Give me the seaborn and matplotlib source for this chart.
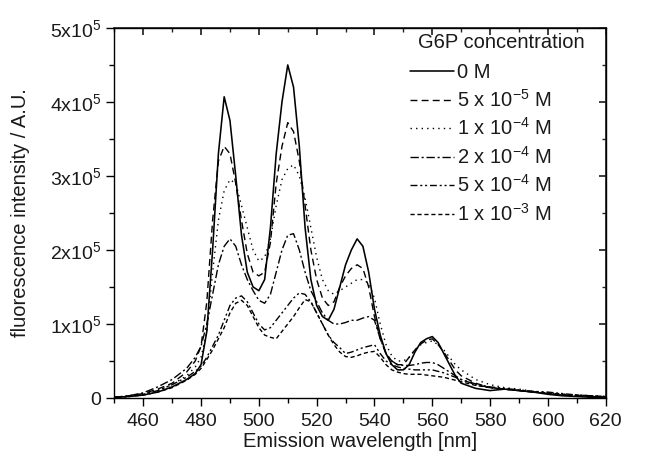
import numpy as np
import pandas as pd
import matplotlib
matplotlib.use("Agg")
import matplotlib.pyplot as plt
import seaborn as sns
from matplotlib.ticker import MultipleLocator, FuncFormatter

wavelength = [450, 455, 460, 465, 470, 475, 478, 480, 482, 484, 486, 488, 490, 492, 494,
              496, 498, 500, 502, 504, 506, 508, 510, 512, 514, 516, 518, 520, 522, 524,
              526, 528, 530, 532, 534, 536, 538, 540, 542, 544, 546, 548, 550, 552, 554,
              556, 558, 560, 562, 564, 566, 568, 570, 575, 580, 585, 590, 595, 600, 605,
              610, 615, 620]

# intensities in units of 1e5
c0 = [0.01, 0.02, 0.04, 0.08, 0.15, 0.25, 0.33, 0.45, 0.9, 2.0, 3.3, 4.07, 3.75, 3.0, 2.2,
      1.7, 1.5, 1.45, 1.6, 2.3, 3.3, 4.0, 4.5, 4.2, 3.4, 2.3, 1.6, 1.25, 1.1, 1.05,
      1.2, 1.5, 1.8, 2.0, 2.15, 2.05, 1.7, 1.2, 0.85, 0.6, 0.45, 0.38, 0.38, 0.45, 0.62,
      0.75, 0.8, 0.83, 0.75, 0.6, 0.45, 0.3, 0.2, 0.13, 0.1, 0.12, 0.1, 0.08, 0.05, 0.03,
      0.02, 0.01, 0.0]
c5e5 = [0.01, 0.03, 0.06, 0.12, 0.2, 0.35, 0.5, 0.7, 1.3, 2.4, 3.2, 3.4, 3.3, 2.9, 2.4,
        1.95, 1.7, 1.65, 1.7, 2.1, 2.9, 3.4, 3.72, 3.6, 3.2, 2.6, 2.0, 1.6, 1.35, 1.25,
        1.3, 1.5, 1.65, 1.75, 1.8, 1.75, 1.5, 1.1, 0.8, 0.6, 0.5, 0.45, 0.45, 0.55, 0.65,
        0.73, 0.78, 0.8, 0.72, 0.62, 0.5, 0.38, 0.3, 0.2, 0.14, 0.12, 0.1, 0.08, 0.06, 0.04,
        0.03, 0.02, 0.01]
c1e4 = [0.01, 0.02, 0.05, 0.1, 0.18, 0.3, 0.42, 0.55, 0.9, 1.7, 2.4, 2.8, 2.95, 2.9, 2.6,
        2.3, 2.0, 1.85, 1.9, 2.15, 2.6, 2.95, 3.1, 3.15, 3.0, 2.7, 2.3, 1.9, 1.6, 1.45,
        1.4, 1.45, 1.5, 1.55, 1.6, 1.6, 1.55, 1.35, 1.0, 0.72, 0.57, 0.5, 0.5, 0.55, 0.65,
        0.72, 0.75, 0.77, 0.72, 0.65, 0.55, 0.45, 0.38, 0.25, 0.18, 0.14, 0.12, 0.09, 0.07, 0.05,
        0.04, 0.03, 0.02]
c2e4 = [0.01, 0.03, 0.07, 0.15, 0.25, 0.4, 0.55, 0.7, 1.0, 1.4, 1.8, 2.05, 2.15, 2.05, 1.8,
        1.6, 1.45, 1.32, 1.28, 1.4, 1.7, 2.0, 2.2, 2.22, 2.0, 1.7, 1.45, 1.3, 1.15, 1.05,
        1.0, 1.0, 1.02, 1.05, 1.05, 1.08, 1.1, 1.05, 0.8, 0.6, 0.5, 0.45, 0.44, 0.44, 0.45,
        0.47, 0.48, 0.48, 0.45, 0.4, 0.35, 0.3, 0.25, 0.18, 0.14, 0.12, 0.1, 0.08, 0.06, 0.04,
        0.03, 0.02, 0.01]
c5e4 = [0.01, 0.02, 0.05, 0.1, 0.18, 0.28, 0.36, 0.43, 0.55, 0.7, 0.85, 1.05, 1.25, 1.35, 1.38,
        1.3, 1.15, 1.0, 0.92, 0.95, 1.05, 1.15, 1.25, 1.35, 1.42, 1.4, 1.3, 1.15, 1.0, 0.85,
        0.75, 0.68, 0.6, 0.62, 0.65, 0.68, 0.7, 0.72, 0.6, 0.5, 0.45, 0.42, 0.4, 0.39, 0.38,
        0.38, 0.38, 0.38, 0.36, 0.34, 0.31, 0.28, 0.25, 0.19, 0.15, 0.13, 0.11, 0.09, 0.08, 0.06,
        0.04, 0.03, 0.02]
c1e3 = [0.01, 0.02, 0.04, 0.08, 0.14, 0.24, 0.32, 0.4, 0.52, 0.65, 0.8, 0.95, 1.15, 1.28, 1.32,
        1.25, 1.1, 0.95, 0.85, 0.82, 0.8, 0.9, 1.0, 1.1, 1.22, 1.33, 1.3, 1.15, 1.0, 0.85,
        0.72, 0.62, 0.56, 0.55, 0.57, 0.6, 0.62, 0.63, 0.55, 0.45, 0.38, 0.35, 0.33, 0.32, 0.32,
        0.32, 0.31, 0.3, 0.29, 0.28, 0.26, 0.24, 0.22, 0.17, 0.14, 0.12, 0.1, 0.08, 0.07, 0.05,
        0.04, 0.03, 0.02]

legend_title = "G6P concentration"
labels = ["0 M", r"5 x 10$^{-5}$ M", r"1 x 10$^{-4}$ M", r"2 x 10$^{-4}$ M",
          r"5 x 10$^{-4}$ M", r"1 x 10$^{-3}$ M"]
series = [c0, c5e5, c1e4, c2e4, c5e4, c1e3]
styles = ["-", (0, (5, 3)), (0, (1, 3)), (0, (6, 2, 1.5, 2)), (0, (5, 2, 1.5, 2, 1.5, 2)),
          (0, (3, 2))]

sns.set_theme(style="ticks")
plt.rcParams["font.family"] = ["Liberation Sans", "DejaVu Sans"]
plt.rcParams["mathtext.default"] = "regular"

fig = plt.figure(figsize=(6.46, 4.58), dpi=100)
ax = fig.add_axes([0.177, 0.131, 0.7606, 0.808])

for lab, vals, ls, lw in zip(labels, series, styles, [1.15, 1, 1, 1, 1, 1]):
    df = pd.DataFrame({"wl": wavelength, "val": np.array(vals) * 1e5})
    sns.lineplot(data=df, x="wl", y="val", ax=ax, color="black",
                 linestyle=ls, linewidth=lw, label=lab)

ax.set_xlim(450, 620)
ax.set_ylim(0, 5e5)
ax.xaxis.set_major_locator(MultipleLocator(20))
ax.xaxis.set_minor_locator(MultipleLocator(10))
ax.yaxis.set_major_locator(MultipleLocator(1e5))
ax.yaxis.set_minor_locator(MultipleLocator(0.5e5))

def yfmt(v, pos):
    k = int(round(v / 1e5))
    return "0" if k == 0 else r"%dx10$^{5}$" % k

ax.yaxis.set_major_formatter(FuncFormatter(yfmt))
ax.tick_params(axis="both", which="major", direction="out", length=6, width=1,
               labelsize=14, color="black", labelcolor="#1a1a1a")
ax.tick_params(axis="x", which="major", pad=4.5)
ax.tick_params(axis="both", which="minor", direction="out", length=3.5, width=1, color="black")
for s in ax.spines.values():
    s.set_linewidth(1.0)
    s.set_color("black")

top = ax.secondary_xaxis("top")
top.xaxis.set_major_locator(MultipleLocator(20))
top.xaxis.set_minor_locator(MultipleLocator(10))
top.tick_params(which="major", direction="in", length=5, labeltop=False)
top.tick_params(which="minor", direction="in", length=3, labeltop=False)
right = ax.secondary_yaxis("right")
right.yaxis.set_major_locator(MultipleLocator(1e5))
right.yaxis.set_minor_locator(MultipleLocator(0.5e5))
right.tick_params(which="major", direction="in", length=5, labelright=False)
right.tick_params(which="minor", direction="in", length=3, labelright=False)

ax.set_xlabel("Emission wavelength [nm]", fontsize=14.5, color="#1a1a1a", labelpad=2)
ax.set_ylabel("fluorescence intensity / A.U.", fontsize=14.5, color="#1a1a1a", labelpad=14)

ax.text(0.618, 0.962, legend_title, transform=ax.transAxes, fontsize=14.5,
        color="#1a1a1a", ha="left", va="center")
leg = ax.legend(loc="upper left", frameon=False, fontsize=14.5, handlelength=2.2,
                handletextpad=0.15, labelspacing=0.33, borderpad=0, borderaxespad=0,
                bbox_to_anchor=(0.6017, 0.905))
for t in leg.get_texts():
    t.set_color("#1a1a1a")

fig.savefig("out.png", dpi=100)
